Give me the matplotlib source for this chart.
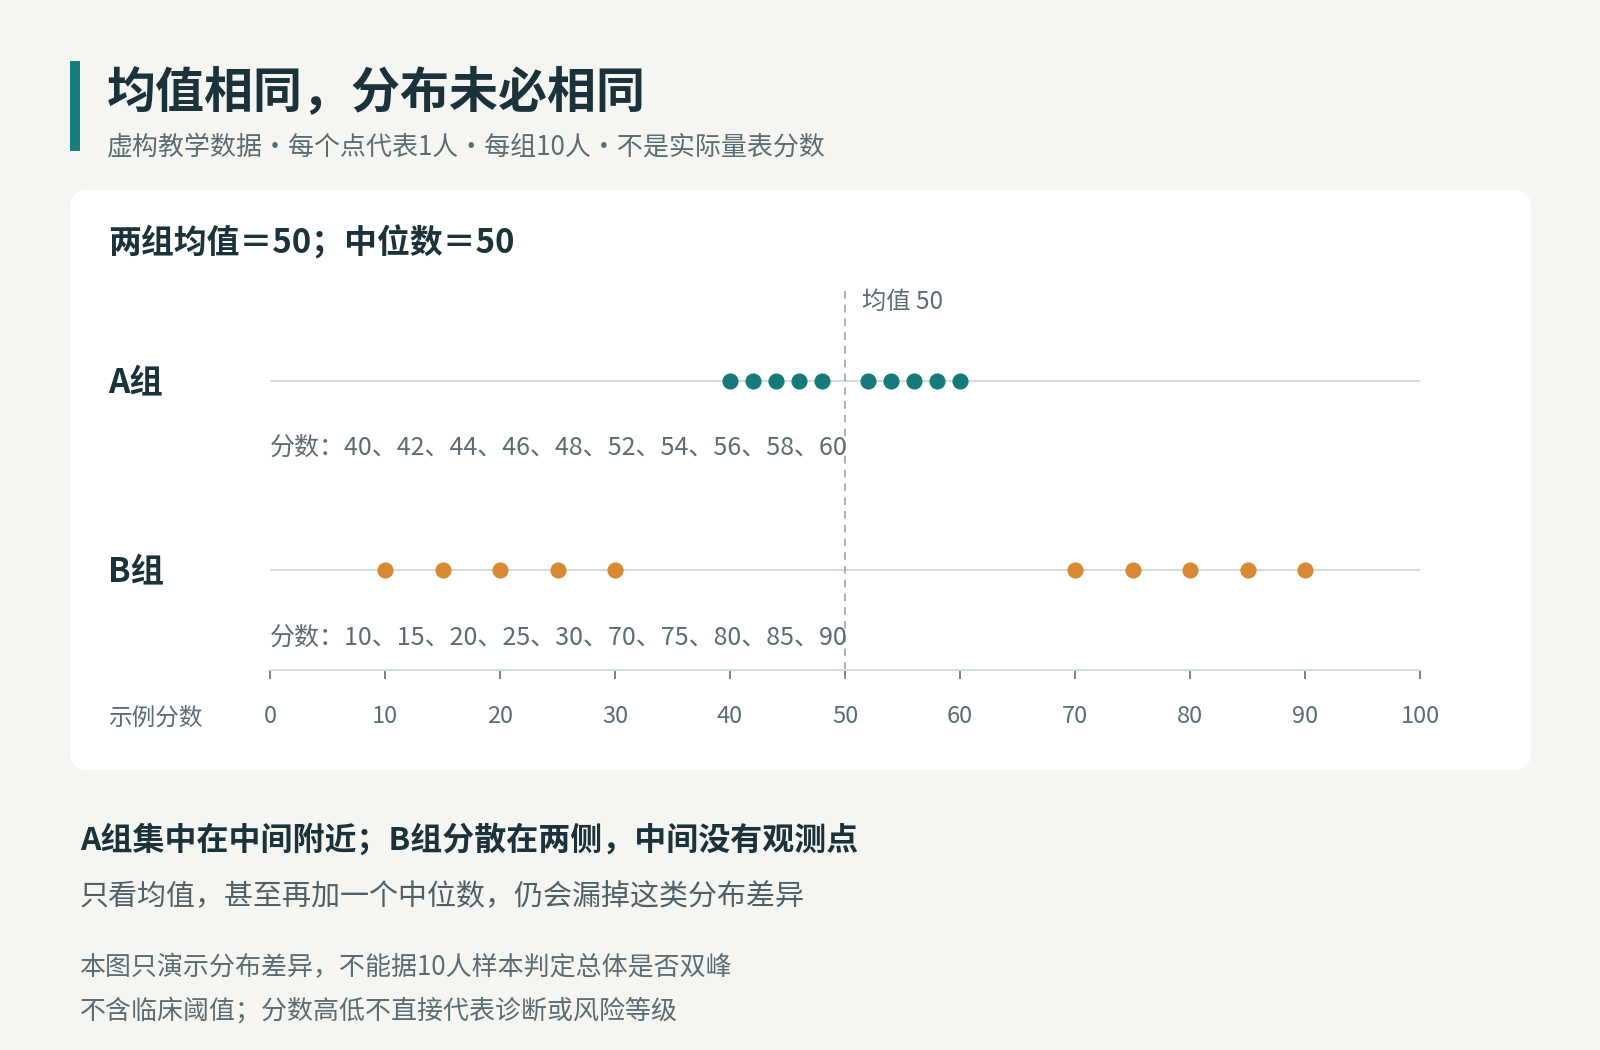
import matplotlib
matplotlib.use("Agg")
import matplotlib.pyplot as plt
from matplotlib.patches import FancyBboxPatch, Rectangle
from matplotlib.transforms import IdentityTransform

plt.rcParams['font.family'] = ['Noto Sans CJK SC', 'DejaVu Sans']

# ---- data ----
groups = ["A组", "B组"]
scores_a = [40, 42, 44, 46, 48, 52, 54, 56, 58, 60]
scores_b = [10, 15, 20, 25, 30, 70, 75, 80, 85, 90]
mean_value = 50
xticks = [0, 10, 20, 30, 40, 50, 60, 70, 80, 90, 100]

title = "均值相同，分布未必相同"
subtitle = "虚构教学数据·每个点代表1人·每组10人·不是实际量表分数"
card_title = "两组均值＝50；中位数＝50"
axis_label = "示例分数"
mean_label = "均值 50"
note1 = "A组集中在中间附近；B组分散在两侧，中间没有观测点"
note2 = "只看均值，甚至再加一个中位数，仍会漏掉这类分布差异"
note3 = "本图只演示分布差异，不能据10人样本判定总体是否双峰"
note4 = "不含临床阈值；分数高低不直接代表诊断或风险等级"

# ---- styles ----
W, H = 1600, 1050
BG = "#f5f5f1"
DARK = "#1c323a"
MUTED = "#5b6c72"
TEAL = "#167a7a"
ORANGE = "#d98934"
TRACK = "#d4dddb"
colors = [TEAL, ORANGE]

fig = plt.figure(figsize=(W / 100, H / 100), dpi=100, facecolor=BG)


def ftext(x, y, s, **kw):
    fig.text(x / W, 1 - y / H, s, **kw)


# accent bar
fig.patches.append(Rectangle((70, H - 151), 10, 90, transform=IdentityTransform(),
                             facecolor="#177e7f", edgecolor="none", zorder=-10))
# card
fig.patches.append(FancyBboxPatch((70, H - 770), 1461, 580,
                                  boxstyle="round,pad=0,rounding_size=18",
                                  transform=IdentityTransform(),
                                  facecolor="white", edgecolor="none", zorder=-10))

ftext(107, 93, title, fontsize=35.3, fontweight="bold", color=DARK, va="center")
ftext(107, 147, subtitle, fontsize=18.7, color=MUTED, va="center")
ftext(108, 243, card_title, fontsize=23.7, fontweight="bold", color=DARK, va="center")

# ---- axes: y data in pixels from top ----
top_px, bot_px = 260, 700
ax = fig.add_axes([270 / W, 1 - bot_px / H, 1150 / W, (bot_px - top_px) / H])
ax.set_facecolor("none")
ax.set_zorder(5)
ax.set_xlim(0, 100)
ax.set_ylim(bot_px, top_px)

row_y = [381, 570]
text_y = [448, 638]
all_scores = [scores_a, scores_b]

for gname, yy, ty, sc, col in zip(groups, row_y, text_y, all_scores, colors):
    ax.hlines(yy, 0, 100, color=TRACK, lw=1.5, zorder=1)
    ax.scatter(sc, [yy] * len(sc), s=135, color=col, zorder=3, linewidths=0, clip_on=False)
    ftext(108, yy + 3, gname, fontsize=24, fontweight="bold", color=DARK, va="center")
    ax.text(0, ty, "分数：" + "、".join(str(v) for v in sc), fontsize=18,
            color=MUTED, va="center", ha="left")

ax.vlines(mean_value, 291, 679, color="#8f9ea2", lw=1.1, linestyles=(0, (5, 4)), zorder=2)
ax.text(mean_value + 1.5, 302, mean_label, fontsize=17.5, color=MUTED, va="center", ha="left")

for s in ["top", "left", "right"]:
    ax.spines[s].set_visible(False)
ax.spines["bottom"].set_position(("data", 670))
ax.spines["bottom"].set_color(TRACK)
ax.spines["bottom"].set_linewidth(1.5)
ax.set_yticks([])
ax.set_xticks(xticks)
ax.set_xticklabels([str(v) for v in xticks])
ax.tick_params(axis="x", direction="out", length=6.5, width=1.1, color="#4f6066",
               labelsize=17, labelcolor=MUTED, pad=18.5)

ftext(108, 718, axis_label, fontsize=17, color=MUTED, va="center")

ftext(80, 840, note1, fontsize=23, fontweight="bold", color=DARK, va="center")
ftext(80, 897, note2, fontsize=20.9, color="#4f6167", va="center")
ftext(80, 968, note3, fontsize=18.7, color=MUTED, va="center")
ftext(80, 1011, note4, fontsize=18.7, color=MUTED, va="center")

fig.savefig("out.png", dpi=100, facecolor=BG)
